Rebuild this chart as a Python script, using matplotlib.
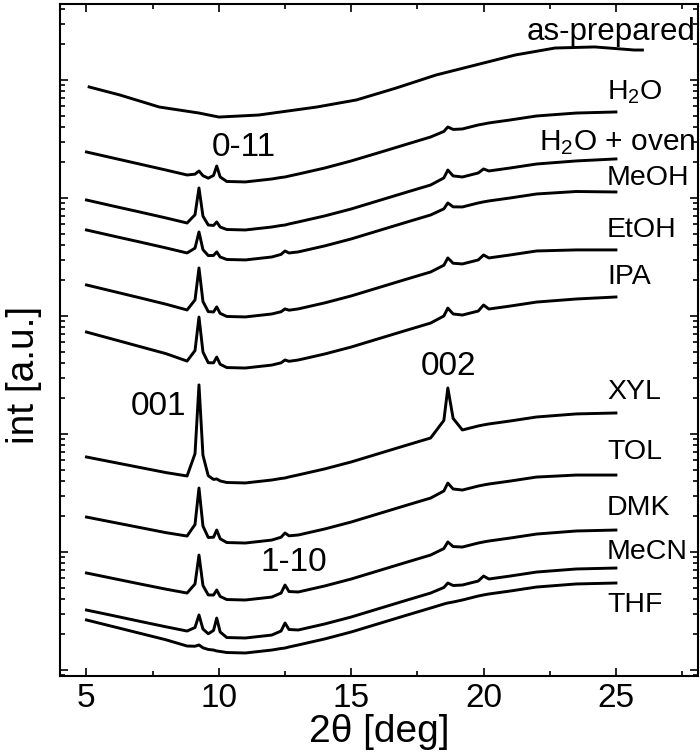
import numpy as np
import matplotlib
matplotlib.use("Agg")
import matplotlib.pyplot as plt
from matplotlib.ticker import MultipleLocator, LogLocator, NullFormatter

plt.rcParams['font.family'] = ['Liberation Sans', 'DejaVu Sans']
plt.rcParams['mathtext.fontset'] = 'custom'
plt.rcParams['mathtext.rm'] = 'Liberation Sans'
plt.rcParams['mathtext.it'] = 'Liberation Sans:italic'

# 2-theta grid (deg) shared by the solvent-treated samples
two_theta = [5.0, 6.0, 7.0, 8.0, 8.8, 9.1, 9.25, 9.4, 9.6, 9.8, 9.92, 10.05, 10.3, 11.0,
             12.0, 12.35, 12.5, 12.65, 13.0, 14.0, 15.0, 16.0, 17.0, 18.0, 18.5, 18.65,
             18.85, 19.2, 19.8, 20.0, 20.2, 21.0, 22.0, 23.5, 25.0]

# log10 intensity (a.u., stacked)
log_h2o = [4.390, 4.339, 4.288, 4.237, 4.195, 4.202, 4.229, 4.189, 4.168, 4.191, 4.271, 4.178,
           4.140, 4.136, 4.161, 4.174, 4.178, 4.186, 4.203, 4.254, 4.314, 4.381, 4.449, 4.517,
           4.564, 4.602, 4.581, 4.585, 4.619, 4.627, 4.636, 4.661, 4.695, 4.720, 4.729]
log_h2o_oven = [3.983, 3.932, 3.882, 3.831, 3.788, 3.858, 4.085, 3.846, 3.771, 3.767, 3.797, 3.754,
                3.733, 3.729, 3.754, 3.767, 3.771, 3.780, 3.797, 3.848, 3.907, 3.975, 4.043, 4.110,
                4.170, 4.237, 4.187, 4.178, 4.212, 4.246, 4.229, 4.254, 4.288, 4.314, 4.331]
log_meoh = [3.729, 3.678, 3.628, 3.577, 3.534, 3.575, 3.712, 3.562, 3.512, 3.513, 3.543, 3.500,
            3.479, 3.475, 3.500, 3.522, 3.551, 3.534, 3.543, 3.594, 3.653, 3.721, 3.789, 3.856,
            3.908, 3.958, 3.925, 3.924, 3.958, 3.967, 3.975, 4.000, 4.034, 4.055, 4.051]
log_etoh = [3.263, 3.209, 3.155, 3.100, 3.051, 3.136, 3.407, 3.123, 3.037, 3.034, 3.077, 3.022,
            2.996, 2.992, 3.017, 3.036, 3.060, 3.049, 3.060, 3.111, 3.170, 3.238, 3.306, 3.373,
            3.430, 3.492, 3.447, 3.441, 3.475, 3.517, 3.492, 3.517, 3.551, 3.560, 3.560]
log_ipa = [2.864, 2.803, 2.742, 2.681, 2.618, 2.707, 2.991, 2.695, 2.604, 2.603, 2.652, 2.591,
           2.563, 2.559, 2.584, 2.603, 2.627, 2.616, 2.627, 2.678, 2.737, 2.805, 2.873, 2.940,
           3.000, 3.067, 3.017, 3.008, 3.042, 3.093, 3.059, 3.084, 3.118, 3.144, 3.161]
log_xyl = [1.805, 1.761, 1.717, 1.673, 1.644, 1.833, 2.416, 1.820, 1.646, 1.615, 1.619, 1.602,
           1.589, 1.585, 1.610, 1.623, 1.627, 1.636, 1.653, 1.704, 1.763, 1.831, 1.899, 1.966,
           2.115, 2.390, 2.132, 2.034, 2.068, 2.077, 2.085, 2.110, 2.144, 2.170, 2.178]
log_tol = [1.296, 1.252, 1.208, 1.164, 1.135, 1.233, 1.542, 1.220, 1.123, 1.125, 1.186, 1.112,
           1.080, 1.076, 1.101, 1.125, 1.161, 1.137, 1.144, 1.195, 1.254, 1.322, 1.390, 1.457,
           1.517, 1.584, 1.534, 1.525, 1.559, 1.568, 1.576, 1.601, 1.635, 1.652, 1.652]
log_dmk = [0.822, 0.776, 0.730, 0.685, 0.652, 0.729, 0.974, 0.716, 0.636, 0.635, 0.678, 0.623,
           0.597, 0.593, 0.618, 0.652, 0.720, 0.665, 0.661, 0.712, 0.771, 0.839, 0.907, 0.974,
           1.029, 1.085, 1.046, 1.042, 1.076, 1.085, 1.093, 1.118, 1.152, 1.178, 1.186]
log_mecn = [0.508, 0.461, 0.413, 0.366, 0.330, 0.360, 0.466, 0.347, 0.307, 0.335, 0.440, 0.322,
            0.275, 0.271, 0.296, 0.330, 0.398, 0.343, 0.339, 0.390, 0.449, 0.517, 0.585, 0.652,
            0.699, 0.737, 0.716, 0.720, 0.754, 0.796, 0.771, 0.796, 0.830, 0.856, 0.864]
log_thf = [0.424, 0.368, 0.312, 0.256, 0.203, 0.201, 0.212, 0.188, 0.174, 0.169, 0.161, 0.157,
           0.148, 0.144, 0.169, 0.182, 0.186, 0.195, 0.212, 0.263, 0.322, 0.390, 0.458, 0.525,
           0.559, 0.568, 0.576, 0.593, 0.627, 0.636, 0.644, 0.669, 0.703, 0.729, 0.737]

# as-prepared sample (own 2-theta sampling)
two_theta_asprep = [5.1, 6.26, 7.75, 9.25, 10.0, 11.5, 13.7, 15.2, 16.7, 18.2, 19.7, 21.2,
                    22.7, 24.2, 25.7, 26.0]
log_asprep = [4.941, 4.873, 4.771, 4.720, 4.686, 4.703, 4.771, 4.831, 4.932, 5.042, 5.127,
              5.212, 5.271, 5.280, 5.254, 5.254]

samples = ["H$_2$O", "H$_2$O + oven", "MeOH", "EtOH", "IPA", "XYL", "TOL", "DMK", "MeCN", "THF"]
series = [log_h2o, log_h2o_oven, log_meoh, log_etoh, log_ipa, log_xyl, log_tol, log_dmk,
          log_mecn, log_thf]
# label anchor (log10 units) for each sample name
label_log = [4.898, 4.466, 4.169, 3.729, 3.331, 2.356, 1.847, 1.373, 1.000, 0.551]

peak_labels = ["0-11", "001", "002", "1-10"]
peak_x = [10.96, 7.72, 18.66, 12.85]
peak_log = [4.424, 2.229, 2.568, 0.915]

fig = plt.figure(figsize=(7.0, 7.55), dpi=100)
ax = fig.add_axes([60 / 700, 79 / 755, 638 / 700, 672 / 755])

lw = 2.1
ax.plot(two_theta_asprep, 10 ** np.array(log_asprep), color='black', lw=lw)
for s in series:
    ax.plot(two_theta, 10 ** np.array(s), color='black', lw=lw)

ax.set_yscale('log')
ax.set_xlim(4.0, 28.1)
ax.set_ylim(10 ** -0.051, 10 ** 5.644)

ax.text(28.0, 10 ** 5.407, "as-prepared", ha='right', va='center', fontsize=22.5)
for name, yl in zip(samples, label_log):
    if name == "H$_2$O + oven":
        ax.text(28.0, 10 ** yl, name, ha='right', va='center', fontsize=21.5)
    else:
        ax.text(24.66, 10 ** yl, name, ha='left', va='center', fontsize=20.5)
for t, px, py in zip(peak_labels, peak_x, peak_log):
    ax.text(px, 10 ** py, t, ha='center', va='center', fontsize=24)

ax.xaxis.set_major_locator(MultipleLocator(5))
ax.xaxis.set_minor_locator(MultipleLocator(2.5))
ax.yaxis.set_major_locator(LogLocator(base=10, numticks=20))
ax.yaxis.set_minor_locator(LogLocator(base=10, subs=np.arange(2, 10), numticks=100))
ax.yaxis.set_major_formatter(NullFormatter())
ax.yaxis.set_minor_formatter(NullFormatter())
ax.tick_params(which='both', direction='in', top=True, right=True, width=1.2)
ax.tick_params(which='major', length=6, labelsize=24, pad=5)
ax.tick_params(which='minor', length=3.5)
for sp in ax.spines.values():
    sp.set_linewidth(1.5)

ax.set_xlabel("2θ [deg]", fontsize=28, labelpad=0)
ax.set_ylabel("int [a.u.]", fontsize=28)
ax.yaxis.set_label_coords(-0.028, 0.448)

fig.savefig("out.png", dpi=100)
